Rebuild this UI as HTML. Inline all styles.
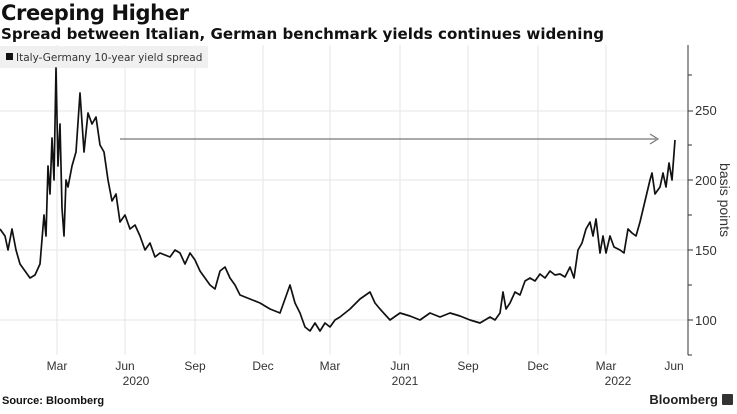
<!DOCTYPE html><html><head><style>
body{margin:0;width:737px;height:409px;background:#fff;overflow:hidden;font-family:"Liberation Sans",sans-serif}
</style></head><body>
<svg width="737" height="409" xmlns="http://www.w3.org/2000/svg" font-family="Liberation Sans, sans-serif">
<text x="1" y="20" font-size="21" font-weight="bold" fill="#111" font-family="DejaVu Sans, sans-serif" textLength="188">Creeping Higher</text>
<text x="1" y="39" font-size="15" font-weight="bold" fill="#111" font-family="DejaVu Sans, sans-serif" textLength="603" lengthAdjust="spacingAndGlyphs">Spread between Italian, German benchmark yields continues widening</text>
<g stroke="#e6e6e6" stroke-width="1">
<line x1="0" y1="111" x2="688" y2="111"/><line x1="0" y1="180" x2="688" y2="180"/><line x1="0" y1="250" x2="688" y2="250"/><line x1="0" y1="320" x2="688" y2="320"/>
<line x1="57" y1="45" x2="57" y2="355"/><line x1="125" y1="45" x2="125" y2="355"/><line x1="195" y1="45" x2="195" y2="355"/><line x1="263" y1="45" x2="263" y2="355"/><line x1="330" y1="45" x2="330" y2="355"/><line x1="400" y1="45" x2="400" y2="355"/><line x1="468" y1="45" x2="468" y2="355"/><line x1="538" y1="45" x2="538" y2="355"/><line x1="606" y1="45" x2="606" y2="355"/>
</g>
<rect x="0" y="46" width="208" height="22" fill="#f0f0f0"/>
<rect x="6" y="53" width="7" height="7" fill="#111"/>
<text x="16" y="61" font-size="10.5" fill="#333" font-family="DejaVu Sans, sans-serif">Italy-Germany 10-year yield spread</text>
<line x1="688" y1="45" x2="688" y2="355" stroke="#333"/>
<g stroke="#333"><line x1="688" y1="75" x2="692" y2="75"/><line x1="688" y1="111" x2="693" y2="111"/><line x1="688" y1="145" x2="692" y2="145"/><line x1="688" y1="180" x2="693" y2="180"/><line x1="688" y1="215" x2="692" y2="215"/><line x1="688" y1="250" x2="693" y2="250"/><line x1="688" y1="285" x2="692" y2="285"/><line x1="688" y1="320" x2="693" y2="320"/><line x1="688" y1="355" x2="692" y2="355"/></g>
<g font-size="13" fill="#333"><text x="695" y="115">250</text><text x="695" y="185">200</text><text x="695" y="255">150</text><text x="695" y="325">100</text></g>
<text transform="translate(720,200) rotate(90)" text-anchor="middle" font-size="14" fill="#333">basis points</text>
<line x1="120" y1="139" x2="656" y2="139" stroke="#777" stroke-width="1.2"/>
<polyline points="650,134 658,139 650,144" fill="none" stroke="#777" stroke-width="1.2"/>
<polyline fill="none" stroke="#111" stroke-width="1.7" stroke-linejoin="round" points="
0,229 5,236 8,250 12,229 16,250 20,264 25,271 30,278 35,275 40,264 44,215 46,236 48,166 50,194 52,138 54,180 56,68 58,166 60,124 62,208 64,236 66,180 68,187 72,166 76,152 80,93 84,152 88,113 92,124 96,117 100,145 104,152 108,180 112,201 116,194 120,222 125,215 130,229 135,225 140,236 145,250 150,243 155,257 160,253 170,257 175,250 180,253 185,264 190,253 195,260 200,271 205,278 210,285 215,289 220,271 225,267 230,278 235,285 240,295 250,299 260,303 270,309 280,313 285,299 290,285 295,303 300,313 305,327 310,331 315,323 320,331 325,323 330,327 335,320 340,317 350,309 360,299 370,292 375,303 380,309 390,320 400,313 410,316 420,320 430,313 440,317 450,313 460,316 470,320 480,323 490,317 495,320 500,313 503,292 506,309 510,303 515,292 520,295 525,281 530,278 535,281 540,274 545,278 550,271 555,275 560,274 565,277 570,267 574,278 578,250 582,243 586,229 590,222 593,236 596,219 600,253 603,236 606,253 610,236 614,247 620,250 624,253 628,229 632,233 636,236 640,222 645,201 650,180 652,173 655,194 660,187 663,173 666,187 669,163 672,180 675,140"/>
<g font-size="12" fill="#333" text-anchor="middle">
<text x="57" y="370">Mar</text><text x="125" y="370">Jun</text><text x="195" y="370">Sep</text><text x="263" y="370">Dec</text><text x="330" y="370">Mar</text><text x="400" y="370">Jun</text><text x="468" y="370">Sep</text><text x="538" y="370">Dec</text><text x="606" y="370">Mar</text><text x="674" y="370">Jun</text>
<text x="136" y="385">2020</text><text x="405" y="385">2021</text><text x="618" y="385">2022</text>
</g>
<text x="2" y="404" font-size="11" font-weight="bold" fill="#111">Source: Bloomberg</text>
<text x="718" y="404" font-size="13" font-weight="bold" fill="#222" text-anchor="end">Bloomberg</text>
<rect x="722" y="394" width="11" height="11" rx="1" fill="#333"/>
</svg>
</body></html>
